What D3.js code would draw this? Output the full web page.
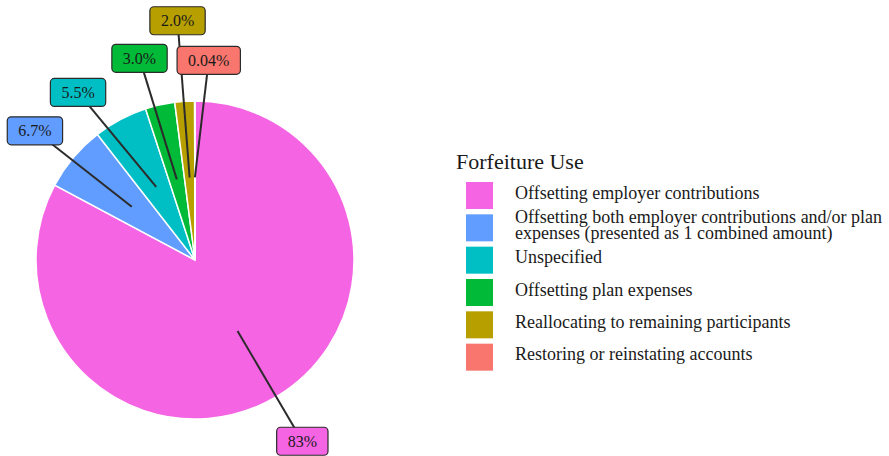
<!doctype html>
<html>
<head>
<meta charset="utf-8">
<script src="https://d3js.org/d3.v7.min.js"></script>
<style>
  body { margin: 0; background: #fff; }
  svg text { font-family: "Liberation Serif", "DejaVu Serif", serif; fill: #1a1a1a; }
  .slice { stroke: #fff; stroke-width: 1.5px; }
  .leader { stroke: #2b2b2b; stroke-width: 2px; }
  .tag rect { stroke: #2b2b2b; stroke-width: 1.2px; }
</style>
</head>
<body>
<svg id="chart" width="889" height="456"></svg>
<script>
// forfeiture use categories, in pie order
var categories = [
  "Offsetting employer contributions",
  "Offsetting both employer contributions and/or plan expenses (presented as 1 combined amount)",
  "Unspecified",
  "Offsetting plan expenses",
  "Reallocating to remaining participants",
  "Restoring or reinstating accounts"
];
var legendLines = [
  ["Offsetting employer contributions"],
  ["Offsetting both employer contributions and/or plan", "expenses (presented as 1 combined amount)"],
  ["Unspecified"],
  ["Offsetting plan expenses"],
  ["Reallocating to remaining participants"],
  ["Restoring or reinstating accounts"]
];
var shares = [83, 6.7, 5.5, 3.0, 2.0, 0.04];
var shareLabels = ["83%", "6.7%", "5.5%", "3.0%", "2.0%", "0.04%"];
var palette = ["#F564E3", "#619CFF", "#00BFC4", "#00BA38", "#B79F00", "#F8766D"];

var svg = d3.select("#chart");
var cx = 195, cy = 260, r = 159;

var color = d3.scaleOrdinal().domain(categories).range(palette);

var rows = categories.map(function(c, i) {
  return {cat: c, value: shares[i], label: shareLabels[i], lines: legendLines[i]};
});

var pie = d3.pie().sort(null).value(function(d) { return d.value; });
var arcs = pie(rows);
var arc = d3.arc().innerRadius(0).outerRadius(r);

var g = svg.append("g").attr("transform", "translate(" + cx + "," + cy + ")");
g.selectAll(".slice")
  .data(arcs)
  .enter().append("path")
  .attr("class", "slice")
  .attr("d", arc)
  .attr("fill", function(d) { return color(d.data.cat); });

// label placement: along mid angle, then pushed apart like a repel layout
var nudge = [[1, 4], [-2, 4], [-20, 15], [-10, 0], [-4, -33], [14, 7]];
function polar(a, rad) { return [Math.sin(a) * rad, -Math.cos(a) * rad]; }

arcs.forEach(function(d, i) {
  var mid = (d.startAngle + d.endAngle) / 2;
  d.inner = polar(mid, r * 0.52);
  var p = polar(mid, r * 1.3);
  d.box = [p[0] + nudge[i][0], p[1] + nudge[i][1]];
});

g.selectAll(".leader")
  .data(arcs)
  .enter().append("line")
  .attr("class", "leader")
  .attr("x1", function(d) { return d.inner[0]; })
  .attr("y1", function(d) { return d.inner[1]; })
  .attr("x2", function(d) { return d.box[0]; })
  .attr("y2", function(d) { return d.box[1]; });

var tags = g.selectAll(".tag")
  .data(arcs)
  .enter().append("g")
  .attr("class", "tag")
  .attr("transform", function(d) { return "translate(" + d.box[0] + "," + d.box[1] + ")"; });

tags.append("rect").attr("rx", 4).attr("ry", 4)
  .attr("fill", function(d) { return color(d.data.cat); });
tags.append("text")
  .attr("text-anchor", "middle")
  .attr("dy", "0.35em")
  .style("font-size", "16px")
  .text(function(d) { return d.data.label; });
tags.each(function() {
  var t = d3.select(this);
  var w = t.select("text").node().getComputedTextLength() + 22;
  t.select("rect").attr("x", -w / 2).attr("y", -14).attr("width", w).attr("height", 28);
});

// legend
var legend = svg.append("g").attr("transform", "translate(456,0)");
legend.append("text")
  .attr("x", 0).attr("y", 169)
  .style("font-size", "22px")
  .text("Forfeiture Use");

var rowY = d3.scaleBand().domain(categories).range([179, 373]).paddingInner(0);

var items = legend.selectAll(".item")
  .data(rows)
  .enter().append("g")
  .attr("class", "item")
  .attr("transform", function(d) { return "translate(0," + rowY(d.cat) + ")"; });

items.append("rect")
  .attr("x", 10).attr("y", 3)
  .attr("width", 27).attr("height", 27)
  .attr("fill", function(d) { return color(d.cat); });

items.append("text")
  .attr("x", 59)
  .style("font-size", "18px")
  .each(function(d) {
    var t = d3.select(this);
    var base = 3 + 27 / 2 + 3;
    var lh = 16;
    var top = base - (d.lines.length - 1) * lh / 2;
    d.lines.forEach(function(line, k) {
      t.append("tspan").attr("x", 59).attr("y", top + k * lh).text(line);
    });
  });
</script>
</body>
</html>
